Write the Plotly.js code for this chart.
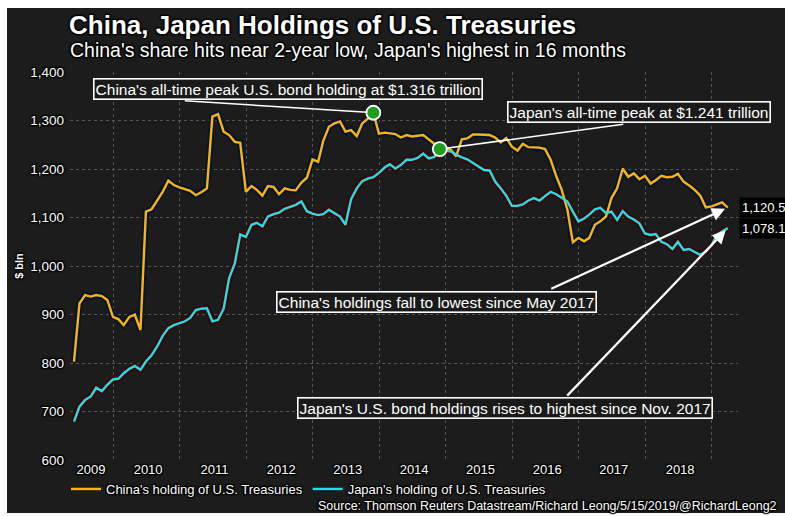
<!DOCTYPE html>
<html>
<head>
<meta charset="utf-8">
<script src="https://cdn.plot.ly/plotly-3.0.1.min.js"></script>
<style>
  html, body { margin: 0; padding: 0; background: #ffffff; }
  #chart { width: 785px; height: 516px; }
</style>
</head>
<body>
<div id="chart"></div>
<script>
// ---------------- data (US $ bln, monthly, May 2009 - Mar 2019) ----------------
var startYear = 2009, startMonth = 5;   // May 2009
var china = [
  803, 923, 940, 937, 940, 938, 930, 895,
  890, 878, 895, 900, 868, 1112, 1117, 1136, 1153, 1176, 1167, 1162,
  1158, 1155, 1146, 1152, 1160, 1308, 1313, 1277, 1270, 1256, 1254, 1153,
  1165, 1157, 1145, 1165, 1163, 1148, 1160, 1157, 1156, 1172, 1182, 1220,
  1215, 1258, 1287, 1294, 1298, 1277, 1280, 1268, 1294, 1304, 1316, 1273,
  1275, 1273, 1272, 1265, 1270, 1267, 1268, 1270, 1261, 1252, 1250, 1244,
  1239, 1226, 1261, 1263, 1271, 1271, 1270, 1270, 1265, 1255, 1264, 1246,
  1238, 1252, 1245, 1244, 1244, 1241, 1219, 1185, 1157, 1116, 1049, 1058,
  1051, 1058, 1085, 1092, 1102, 1140, 1160, 1201, 1184, 1191, 1179, 1186,
  1170, 1177, 1186, 1183, 1184, 1190, 1174, 1166, 1157, 1145, 1121, 1123,
  1127, 1131, 1120.5
];
var japan = [
  679, 710, 724, 731, 749, 742, 755, 766,
  768, 779, 788, 794, 786, 803, 816, 834, 856, 872, 878, 882,
  886, 893, 909, 912, 913, 886, 889, 912, 975, 1005, 1065, 1060,
  1085, 1089, 1082, 1102, 1107, 1110, 1118, 1122, 1126, 1133, 1113, 1108,
  1105, 1107, 1116, 1109, 1102, 1085, 1138, 1160, 1175, 1180, 1183, 1192,
  1203, 1210, 1201, 1208, 1219, 1219, 1223, 1232, 1222, 1225, 1241, 1238,
  1236, 1230, 1224, 1220, 1213, 1205, 1198, 1197, 1174, 1160, 1145, 1124,
  1124, 1127, 1135, 1140, 1135, 1144, 1153, 1148, 1140, 1133, 1112, 1092,
  1098, 1106, 1117, 1120, 1109, 1112, 1095, 1113, 1102, 1096, 1088, 1067,
  1064, 1066, 1050, 1045, 1035, 1050, 1033, 1035, 1029, 1023, 1030, 1042,
  1065, 1071, 1078.1
];
var yearLabels = ["2009","2010","2011","2012","2013","2014","2015","2016","2017","2018"];
var seriesNames = ["China's holding of U.S. Treasuries", "Japan's holding of U.S. Treasuries"];

// month-end dates for each observation
function pad(n){ return (n < 10 ? "0" : "") + n; }
var months = china.map(function(_, i){
  var m0 = startMonth - 1 + i;
  var y = startYear + Math.floor(m0 / 12);
  var m = m0 % 12;
  var last = new Date(Date.UTC(y, m + 1, 0)).getUTCDate();
  return y + "-" + pad(m + 1) + "-" + pad(last);
});

var chinaPeak = china.indexOf(Math.max.apply(null, china));
var japanPeak = japan.indexOf(Math.max.apply(null, japan));
var lastIdx = china.length - 1;

// ---------------- styling ----------------
var FONT = "Liberation Sans, Arial, sans-serif";
var SH = "1px 1px 1px #000, -1px -1px 1px #000, 1px -1px 1px #000, -1px 1px 1px #000, 0 0 3px #000";
var CHINA_C = "#FBB310", JAPAN_C = "#26DDE6";

function px2x(p){ return (p - 70) / 668; }
function px2y(p){ return (460 - p) / 388; }

var tickPos = yearLabels.map(function(y){ return y === "2009" ? "2009-09-01" : y + "-07-12"; });
var gridPos = [];
for (var yy = 2010; yy <= 2019; yy++) gridPos.push(yy + "-01-01");

var traces = [
  { x: months, y: china, type: "scatter", mode: "lines", showlegend: false, hoverinfo: "skip",
    line: { color: "#06152e", width: 6.5 } },
  { x: months, y: japan, type: "scatter", mode: "lines", showlegend: false, hoverinfo: "skip",
    line: { color: "#3a0808", width: 6.5 } },
  { x: months, y: china, type: "scatter", mode: "lines", name: seriesNames[0],
    line: { color: CHINA_C, width: 2.4 } },
  { x: months, y: japan, type: "scatter", mode: "lines", name: seriesNames[1],
    line: { color: JAPAN_C, width: 2.4 } },
  { x: [months[chinaPeak], months[japanPeak]], y: [china[chinaPeak], japan[japanPeak]],
    type: "scatter", mode: "markers", showlegend: false, hoverinfo: "skip",
    marker: { size: 14, color: "#1e9e1e", line: { color: "#ffffff", width: 1.8 } } }
];

function box(text, cx, cy){
  return { text: text, xref: "paper", yref: "paper", x: px2x(cx), y: px2y(cy),
    xanchor: "center", yanchor: "middle", showarrow: false,
    font: { family: FONT, size: 15.5, color: "#ffffff" },
    bgcolor: "#1a1a1a", bordercolor: "#ffffff", borderwidth: 1.6, borderpad: 1 };
}
function fmt(v){ return v.toLocaleString("en-US", { minimumFractionDigits: 1, maximumFractionDigits: 1 }); }

var annotations = [
  // connector lines to peak dots
  { x: months[chinaPeak], y: china[chinaPeak], xref: "x", yref: "y", text: "", showarrow: true,
    arrowhead: 0, arrowwidth: 1.5, arrowcolor: "#ffffff", ax: -190, ay: -12, standoff: 6 },
  { x: months[japanPeak], y: japan[japanPeak], xref: "x", yref: "y", text: "", showarrow: true,
    arrowhead: 0, arrowwidth: 1.5, arrowcolor: "#ffffff", ax: 185, ay: -25, standoff: 6 },
  // arrows to latest values
  { x: months[lastIdx], y: china[lastIdx], xref: "x", yref: "y", text: "", showarrow: true,
    arrowhead: 2, arrowsize: 1.2, arrowwidth: 2.2, arrowcolor: "#ffffff", ax: -178, ay: 82, standoff: 3 },
  { x: months[lastIdx], y: japan[lastIdx], xref: "x", yref: "y", text: "", showarrow: true,
    arrowhead: 2, arrowsize: 1.2, arrowwidth: 2.2, arrowcolor: "#ffffff", ax: -162, ay: 169, standoff: 3 },
  // text boxes
  box("China's all-time peak U.S. bond holding at $1.316 trillion", 287.5, 89.5),
  box("Japan's all-time peak at $1.241 trillion", 639, 112.5),
  box("China's holdings fall to lowest since May 2017", 436, 301.5),
  box("Japan's U.S. bond holdings rises to highest since Nov. 2017", 505, 408),
  // end-value labels
  { text: fmt(china[lastIdx]), xref: "paper", yref: "y", x: px2x(739), y: china[lastIdx],
    xanchor: "left", yanchor: "middle", showarrow: false, bgcolor: "#000000", borderpad: 2,
    font: { family: FONT, size: 13, color: "#ffffff" } },
  { text: fmt(japan[lastIdx]), xref: "paper", yref: "y", x: px2x(739), y: japan[lastIdx],
    xanchor: "left", yanchor: "middle", showarrow: false, bgcolor: "#000000", borderpad: 2,
    font: { family: FONT, size: 13, color: "#ffffff" } },
  // subtitle
  { text: "China's share hits near 2-year low, Japan's highest in 16 months", xref: "paper", yref: "paper",
    x: px2x(68), y: px2y(50), xanchor: "left", yanchor: "middle", showarrow: false,
    font: { family: FONT, size: 19.5, color: "#ffffff", shadow: SH } },
  // source
  { text: "Source: Thomson Reuters Datastream/Richard Leong/5/15/2019/@RichardLeong2", xref: "paper", yref: "paper",
    x: px2x(779), y: px2y(506), xanchor: "right", yanchor: "middle", showarrow: false,
    font: { family: FONT, size: 12.5, color: "#ffffff", shadow: SH } }
];

var shapes = [
  { type: "rect", xref: "paper", yref: "paper", layer: "below",
    x0: px2x(7), x1: px2x(785), y0: px2y(8), y1: px2y(513),
    fillcolor: "#1c1c1c", line: { width: 0 } }
];

var layout = {
  width: 785, height: 516,
  margin: { l: 70, r: 47, t: 72, b: 56, pad: 0 },
  paper_bgcolor: "#ffffff",
  plot_bgcolor: "#252525",
  font: { family: FONT, color: "#ffffff" },
  title: { text: "<b>China, Japan Holdings of U.S. Treasuries</b>", x: 69 / 785, xref: "container",
    xanchor: "left", y: 1 - 25 / 516, yref: "container", yanchor: "middle",
    font: { family: FONT, size: 26, color: "#ffffff", shadow: SH } },
  xaxis: {
    type: "date", range: ["2009-05-09", "2019-05-26"],
    tickmode: "array", tickvals: tickPos, ticktext: yearLabels,
    showgrid: false, zeroline: false, showline: false, ticks: "",
    tickfont: { family: FONT, size: 13, color: "#ffffff", shadow: SH },
    minor: { tickmode: "array", tickvals: gridPos, showgrid: true, gridcolor: "#555555",
      griddash: "dot", gridwidth: 1, ticks: "" },
    fixedrange: true
  },
  yaxis: {
    range: [600, 1400], dtick: 100, tick0: 600, tickformat: ",",
    showgrid: true, gridcolor: "#555555", griddash: "dot", gridwidth: 1,
    zeroline: false, showline: false, ticks: "", ticklabelstandoff: 5,
    tickfont: { family: FONT, size: 13.5, color: "#ffffff", shadow: SH },
    title: { text: "<b>$ bln</b>", standoff: 4, font: { family: FONT, size: 11, color: "#ffffff", shadow: SH } },
    fixedrange: true
  },
  showlegend: true,
  legend: { orientation: "h", x: px2x(66), y: px2y(489), xanchor: "left", yanchor: "middle",
    bgcolor: "rgba(0,0,0,0)", font: { family: FONT, size: 13, color: "#ffffff", shadow: SH },
    itemwidth: 30, tracegroupgap: 0 },
  annotations: annotations,
  shapes: shapes
};

Plotly.newPlot("chart", traces, layout, { staticPlot: true, displayModeBar: false });
</script>
</body>
</html>
